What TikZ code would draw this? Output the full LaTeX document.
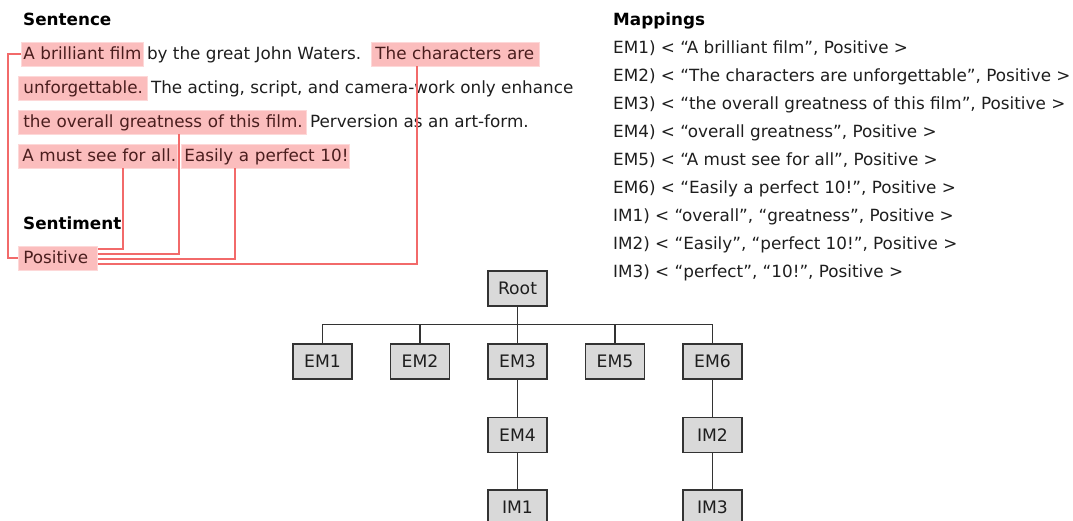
\documentclass[tikz,border=0pt]{standalone}
\usepackage{fontspec}
\setmainfont{DejaVu Sans}
\usetikzlibrary{calc}

\definecolor{hlfill}{HTML}{FBBDBD}
\definecolor{hledge}{HTML}{FDD8D8}
\definecolor{hltext}{HTML}{4A1E1E}
\definecolor{linkred}{HTML}{F26A6A}
\definecolor{ink}{HTML}{1E1E1E}
\definecolor{boxfill}{HTML}{D9D9D9}
\definecolor{boxedge}{HTML}{333333}

\begin{document}
\begin{tikzpicture}[x=1pt,y=-1pt,
  font=\fontsize{16.8}{20}\selectfont,
  word/.style={inner xsep=0pt, inner ysep=0pt, anchor=west,
    text height=14pt, text depth=2pt, minimum height=24pt, text=ink},
  hl/.style={word, fill=hlfill, draw=hledge, line width=0.8pt,
    text=hltext, text width=#1, align=left},
  heading/.style={inner sep=0pt, anchor=base west, text=black,
    font=\fontsize{16.8}{20}\selectfont\bfseries},
  maptext/.style={inner sep=0pt, anchor=base west, text=ink},
  link/.style={draw=linkred, line width=1.2pt},
  tbox/.style={draw=boxedge, fill=boxfill, line width=1.4pt,
    minimum width=59pt, minimum height=35pt, inner sep=0pt, text=ink,
    font=\fontsize{17.2}{20}\selectfont},
  tline/.style={draw=boxedge, line width=1.4pt}
]
\useasboundingbox (0,0) rectangle (1073,521);

% ---------- Sentence ----------
\node[heading] (hsent) at (23,26) {Sentence};

% row 1
\node[hl=122pt] (b1) at (21,54) {\mbox{\hspace*{2pt}A brilliant film}};
\node[word, inner xsep=3pt] (p1) at (b1.east) {by the great John Waters.};
\node[hl=168pt] (chars) at (371,54) {\mbox{\hspace*{4pt}The characters are}};
% row 2
\node[hl=129pt] (unf) at (18,88) {\mbox{\hspace*{5pt}unforgettable.}};
\node[word, inner xsep=3pt] (p2) at (unf.east) {The acting, script, and camera-work only enhance};
% row 3
\node[hl=288pt] (great) at (18,122) {\mbox{\hspace*{5pt}the overall greatness of this film.}};
\node[word, inner xsep=3pt] (p3) at (great.east) {Perversion as an art-form.};
% row 4
\node[hl=159pt] (must) at (18,156) {\mbox{\hspace*{4pt}A must see for all.}};
\node[hl=168pt] (easily) at (181,156) {\mbox{\hspace*{3pt}Easily a perfect 10!}};

% ---------- Sentiment ----------
\node[heading] (hsenti) at (23,230) {Sentiment};
\node[hl=79pt] (pos) at (18,258) {\mbox{\hspace*{5pt}Positive}};

% links from the phrases to the sentiment label
\draw[link] (b1.west) -- ++(-13,0) |- (pos.west);
\draw[link] ($(must.south west)+(105,0)$) |- ($(pos.east)+(0,-9)$);
\draw[link] ($(great.south west)+(161,0)$) |- ($(pos.east)+(0,-4)$);
\draw[link] ($(easily.south west)+(54,0)$) |- ($(pos.east)+(0,1)$);
\draw[link] ($(chars.south west)+(46,0)$) |- ($(pos.east)+(0,6)$);

% ---------- Mappings ----------
\node[heading] (hmap) at (613,26) {Mappings};
\node[maptext] (m1) at (613,53.3)  {EM1) < “A brilliant film”, Positive >};
\node[maptext] (m2) at (613,81.3)  {EM2) < “The characters are unforgettable”, Positive >};
\node[maptext] (m3) at (613,109.3) {EM3) < “the overall greatness of this film”, Positive >};
\node[maptext] (m4) at (613,137.3) {EM4) < “overall greatness”, Positive >};
\node[maptext] (m5) at (613,165.3) {EM5) < “A must see for all”, Positive >};
\node[maptext] (m6) at (613,193.3) {EM6) < “Easily a perfect 10!”, Positive >};
\node[maptext] (m7) at (613,221.3) {IM1) < “overall”, “greatness”, Positive >};
\node[maptext] (m8) at (613,249.3) {IM2) < “Easily”, “perfect 10!”, Positive >};
\node[maptext] (m9) at (613,277.3) {IM3) < “perfect”, “10!”, Positive >};

% ---------- Tree ----------
\node[tbox] (root) at (517.5,288.5) {Root};
\node[tbox] (em1) at (322.5,361.5) {EM1};
\node[tbox] (em2) at (420,361.5)   {EM2};
\node[tbox] (em3) at (517.5,361.5) {EM3};
\node[tbox] (em5) at (615,361.5)   {EM5};
\node[tbox] (em6) at (712.5,361.5) {EM6};
\node[tbox] (em4) at (517.5,435)   {EM4};
\node[tbox] (im2) at (712.5,435)   {IM2};
\node[tbox] (im1) at (517.5,507.5) {IM1};
\node[tbox] (im3) at (712.5,507.5) {IM3};

\foreach \c in {em1,em2,em3,em5,em6}
  \draw[tline] (root.south) -- ++(0,18) -| (\c.north);
\draw[tline] (em3.south) -- (em4.north);
\draw[tline] (em4.south) -- (im1.north);
\draw[tline] (em6.south) -- (im2.north);
\draw[tline] (im2.south) -- (im3.north);
\end{tikzpicture}
\end{document}
